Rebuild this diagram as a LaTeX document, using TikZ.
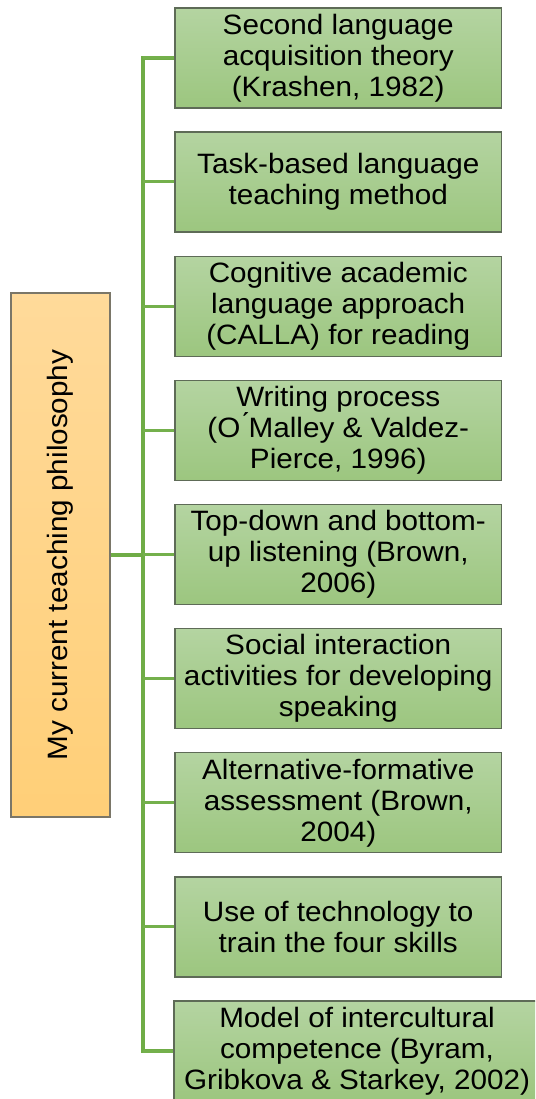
\documentclass[tikz,border=0pt]{standalone}
\usepackage{fontspec}
\setmainfont{Liberation Sans}[FakeStretch=1.06]
\definecolor{gtop}{HTML}{B4D4A1}
\definecolor{gbot}{HTML}{9CC67F}
\definecolor{gedge}{HTML}{5E6B57}
\definecolor{otop}{HTML}{FFDA9A}
\definecolor{obot}{HTML}{FFCF78}
\definecolor{oedge}{HTML}{7A7668}
\definecolor{trunkc}{HTML}{6FAC46}
\definecolor{branchc}{HTML}{74B04C}
\tikzset{
  leafbox/.style={draw=gedge, line width=1.2pt, top color=gtop, bottom color=gbot,
    minimum height=100pt, align=center, inner sep=0pt,
    font=\fontsize{28}{31}\selectfont},
  rootbox/.style={draw=oedge, line width=1.2pt, top color=otop, bottom color=obot,
    minimum width=99pt, minimum height=524pt, inner sep=0pt},
  roottxt/.style={rotate=90, inner sep=0pt, font=\fontsize{28}{31}\selectfont},
  trunkline/.style={draw=trunkc, line width=3.4pt},
  branchline/.style={draw=branchc, line width=3pt},
}
\begin{document}
\begin{tikzpicture}[x=1pt,y=-1pt]
\useasboundingbox (0,0) rectangle (535,1099);
\begin{scope}
\clip (0,0) rectangle (535,1099);
\node[rootbox] (root) at (60.5,555) {};
\node[roottxt] (roottext) at (root.center) {My current teaching philosophy};
\coordinate (j) at (143,555);

\node[leafbox, minimum width=326.5pt] (b1) at (338.25,58) {Second language\\acquisition theory\\(Krashen, 1982)};
\node[leafbox, minimum width=326.5pt] (b2) at (338.25,182) {Task-based language\\teaching method};
\node[leafbox, minimum width=326.5pt] (b3) at (338.25,306.3) {Cognitive academic\\language approach\\(CALLA) for reading};
\node[leafbox, minimum width=326.5pt] (b4) at (338.25,430.4) {Writing process\\(O\'{}Malley \& Valdez-\\Pierce, 1996)};
\node[leafbox, minimum width=326.5pt] (b5) at (338.25,554.5) {Top-down and bottom-\\up listening (Brown,\\2006)};
\node[leafbox, minimum width=326.5pt] (b6) at (338.25,678.6) {Social interaction\\activities for developing\\speaking};
\node[leafbox, minimum width=326.5pt] (b7) at (338.25,802.8) {Alternative-formative\\assessment (Brown,\\2004)};
\node[leafbox, minimum width=326.5pt] (b8) at (338.25,926.9) {Use of technology to\\train the four skills};
\node[leafbox, minimum width=366pt] (b9) at (357,1051) {Model of intercultural\\competence (Byram,\\Gribkova \& Starkey, 2002)};

\draw[trunkline] (root.east) -- (j);
\draw[trunkline] (j) |- (b1.west);
\draw[trunkline] (j) |- (b9.west);
\foreach \b in {b1,b2,b3,b4,b5,b6,b7,b8,b9}{
  \draw[branchline] (\b.west -| j) -- (\b.west);
}
\end{scope}
\end{tikzpicture}
\end{document}
